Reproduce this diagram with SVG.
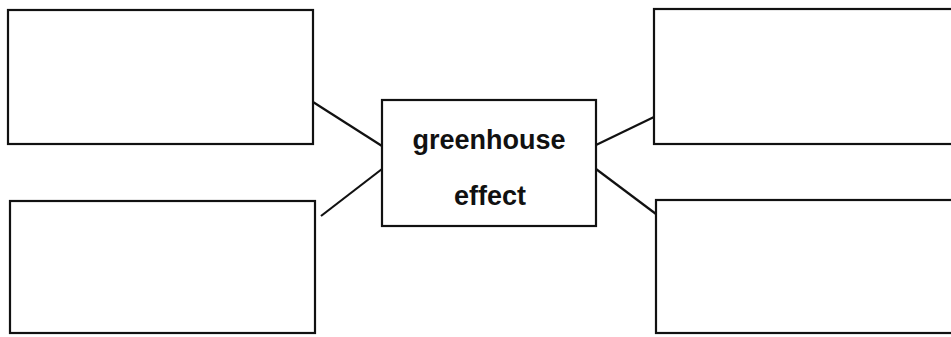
<svg xmlns="http://www.w3.org/2000/svg" width="951" height="337" viewBox="0 0 951 337">
<style>
.box{fill:none;stroke:#111;stroke-width:2.2}
.con{stroke:#111;stroke-width:2.2;fill:none}
.lbl{font-family:"Liberation Sans",Arial,sans-serif;font-weight:bold;font-size:27px;fill:#111;text-anchor:middle}
</style>
<rect width="951" height="337" fill="#fff"/>
<g id="connectors">
<line class="con" x1="313" y1="102" x2="382" y2="146"/>
<line class="con" x1="321" y1="216" x2="382" y2="169"/>
<line class="con" x1="596" y1="145" x2="654" y2="117"/>
<line class="con" x1="596" y1="169" x2="656" y2="214"/>
</g>
<g id="top-left"><rect class="box" x="8" y="10" width="305" height="134"/></g>
<g id="bottom-left"><rect class="box" x="10" y="201" width="305" height="132"/></g>
<g id="center">
<rect class="box" x="382" y="100" width="214" height="126"/>
<text class="lbl" x="489" y="149">greenhouse</text>
<text class="lbl" x="490" y="205">effect</text>
</g>
<g id="top-right"><rect class="box" x="654" y="9" width="310" height="135"/></g>
<g id="bottom-right"><rect class="box" x="656" y="200" width="310" height="133"/></g>
</svg>
